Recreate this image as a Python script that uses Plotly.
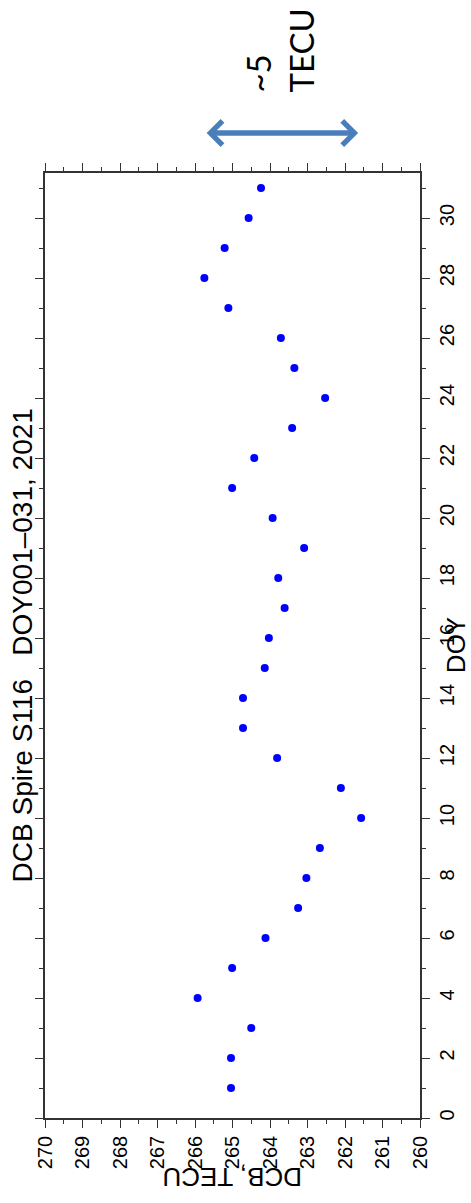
import plotly.graph_objects as go

doy = list(range(1, 32))
dcb = [265.04, 265.04, 264.50, 265.93, 265.01, 264.12, 263.25, 263.03, 262.67, 261.57,
       262.11, 263.81, 264.72, 264.72, 264.14, 264.03, 263.61, 263.78, 263.09, 263.93,
       265.01, 264.42, 263.41, 262.53, 263.35, 263.71, 265.11, 265.75, 265.21, 264.57,
       264.24]

title_text = "DCB Spire S116   DOY001–031, 2021"
xlabel = "DCB, TECU"
ylabel = "DOY"
spread_text = "~5<br>TECU"
spread_from, spread_to = 265.73, 261.65

FONT = "Liberation Sans, Arial, sans-serif"

fig = go.Figure()
fig.add_trace(go.Scatter(
    x=dcb, y=doy, mode="markers",
    marker=dict(color="#0000FF", size=8),
    showlegend=False, cliponaxis=False,
))

axis_common = dict(
    showgrid=False, zeroline=False, showline=True, linecolor="#333333", linewidth=1.5,
    mirror="ticks", ticks="outside", ticklen=8, tickwidth=1.3, tickcolor="#333333",
    tickfont=dict(family=FONT, size=20, color="black"), tickangle=-90,
)

fig.update_layout(
    width=471, height=1203,
    margin=dict(l=45, r=51, t=173, b=85),
    paper_bgcolor="white", plot_bgcolor="white",
    xaxis=dict(range=[270, 260], dtick=1, tick0=260,
               minor=dict(dtick=0.5, ticks="outside", ticklen=4, tickcolor="#333333"),
               **axis_common),
    yaxis=dict(range=[0, 31.5], dtick=2, tick0=0, side="right",
               minor=dict(dtick=1, ticks="outside", ticklen=4, tickcolor="#333333"),
               **axis_common),
)

annotations = [
    dict(text=title_text, xref="paper", yref="paper", x=-0.059, y=0.5,
         textangle=-90, showarrow=False, xanchor="center", yanchor="middle",
         font=dict(family=FONT, size=28, color="black")),
    dict(text=xlabel, xref="paper", yref="paper", x=0.5, y=-0.0624,
         textangle=180, showarrow=False, xanchor="center", yanchor="middle",
         font=dict(family=FONT, size=26, color="black")),
    dict(text=ylabel, xref="paper", yref="paper", x=1.095, y=0.5,
         textangle=-90, showarrow=False, xanchor="center", yanchor="middle",
         font=dict(family=FONT, size=26, color="black")),
    dict(text=spread_text, xref="paper", yref="paper", x=0.625, y=1.13,
         textangle=-90, showarrow=False, xanchor="center", yanchor="middle",
         align="left",
         font=dict(family="Lato, Carlito, sans-serif", size=33, color="black")),
    dict(text="", x=spread_to, y=1.0423, xref="x", yref="paper",
         ax=spread_from, ay=0, axref="x", ayref="pixel",
         showarrow=True, arrowside="end+start", arrowhead=4, startarrowhead=4,
         arrowwidth=5.5, arrowsize=0.85, startarrowsize=0.85, arrowcolor="#4A7EBB"),
]
fig.update_layout(annotations=annotations)

fig.write_html("out.html")
